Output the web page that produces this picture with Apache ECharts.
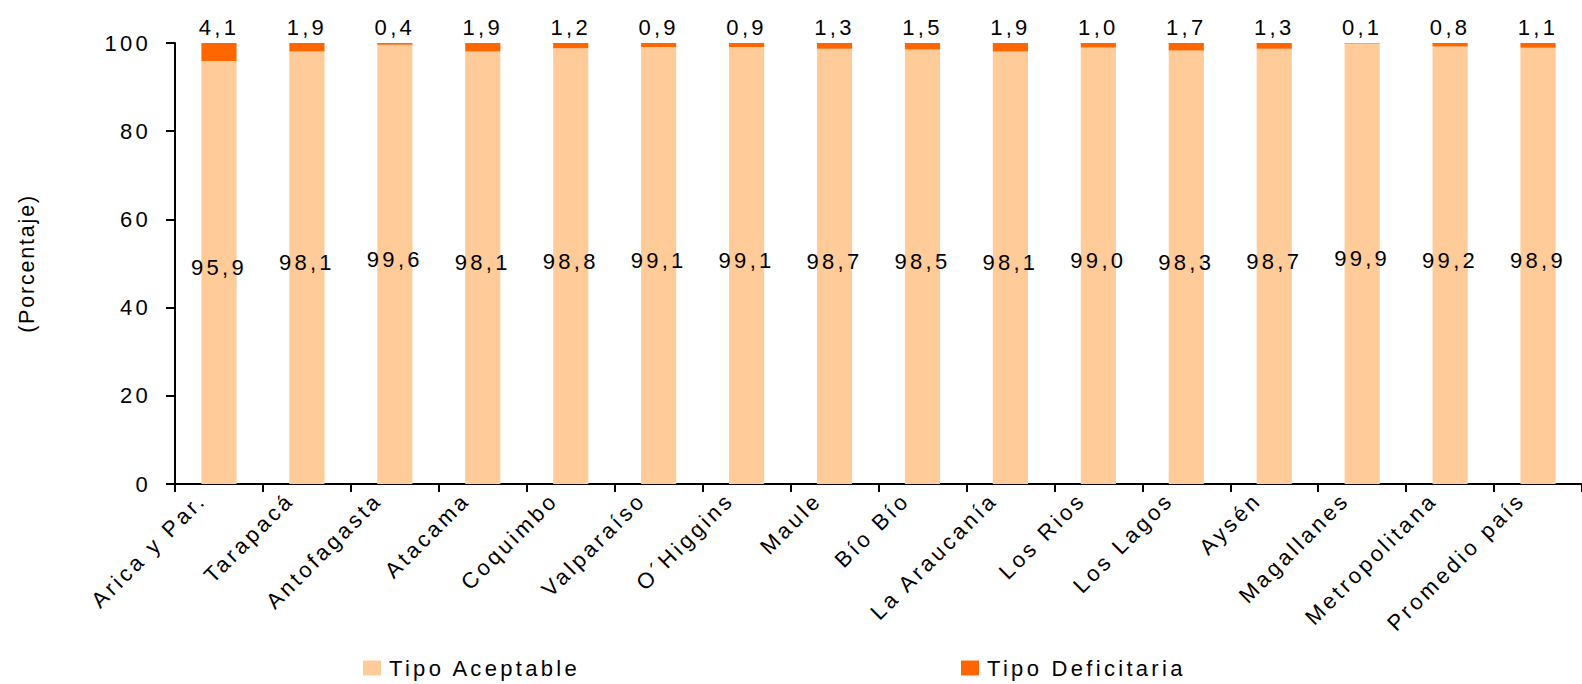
<!DOCTYPE html>
<html lang="es">
<head>
<meta charset="utf-8">
<title>Tipo de vivienda por región</title>
<script src="https://cdn.jsdelivr.net/npm/echarts@6/dist/echarts.min.js"></script>
<style>
  html, body { margin: 0; padding: 0; background: #ffffff; }
  #chart { width: 1582px; height: 684px; }
  /* widely tracked lettering used throughout the chart */
  #chart text { letter-spacing: 3.3px; }
  /* the vertical axis title is set a little tighter */
  #chart text[style*="21.5px"] { letter-spacing: 1.8px; }
</style>
</head>
<body>
<div id="chart"></div>
<script>
// Regions (plus the national average)
const regiones = [
  'Arica y Par.', 'Tarapacá', 'Antofagasta', 'Atacama', 'Coquimbo', 'Valparaíso',
  'O´Higgins', 'Maule', 'Bío Bío', 'La Araucanía', 'Los Rios', 'Los Lagos',
  'Aysén', 'Magallanes', 'Metropolitana', 'Promedio país'
];

// Share of dwellings of acceptable type (%)
const tipoAceptable = [95.9, 98.1, 99.6, 98.1, 98.8, 99.1, 99.1, 98.7, 98.5, 98.1, 99.0, 98.3, 98.7, 99.9, 99.2, 98.9];

// Share of dwellings of deficient type (%)
const tipoDeficitaria = [4.1, 1.9, 0.4, 1.9, 1.2, 0.9, 0.9, 1.3, 1.5, 1.9, 1.0, 1.7, 1.3, 0.1, 0.8, 1.1];

// Value axis ticks
const ejeY = { min: 0, max: 100, interval: 20 };

const FONT = "'Liberation Sans', Arial, Helvetica, sans-serif";
const fmt = v => v.toFixed(1).replace('.', ',');

const chart = echarts.init(document.getElementById('chart'), null, { renderer: 'svg' });

const legendText = { fontFamily: FONT, fontSize: 22, lineHeight: 22, color: '#000000', padding: [0, 0, 0, 3] };

chart.setOption({
  animation: false,
  backgroundColor: '#ffffff',
  textStyle: { fontFamily: FONT, color: '#000000' },
  grid: { left: 175, top: 43, right: -17, bottom: 200, containLabel: false },
  legend: [
    {
      data: ['Tipo Aceptable'],
      left: 363, top: 657,
      padding: 0,
      icon: 'rect', itemWidth: 18, itemHeight: 15,
      textStyle: legendText
    },
    {
      data: ['Tipo Deficitaria'],
      left: 961, top: 657,
      padding: 0,
      icon: 'rect', itemWidth: 18, itemHeight: 15,
      textStyle: legendText
    }
  ],
  xAxis: {
    type: 'category',
    data: regiones,
    axisLine: { lineStyle: { color: '#000000', width: 2 } },
    axisTick: { show: true, length: 8, lineStyle: { color: '#000000', width: 2 } },
    axisLabel: {
      interval: 0,
      rotate: 45,
      margin: 29,
      align: 'right',
      verticalAlign: 'bottom',
      lineHeight: 47,
      fontFamily: FONT,
      fontSize: 22,
      color: '#000000'
    },
    splitLine: { show: false }
  },
  yAxis: {
    type: 'value',
    min: ejeY.min,
    max: ejeY.max,
    interval: ejeY.interval,
    name: '(Porcentaje)',
    nameLocation: 'middle',
    nameRotate: 90,
    nameGap: 137,
    nameTextStyle: { fontFamily: FONT, fontSize: 21.5, color: '#000000' },
    axisLine: { show: true, lineStyle: { color: '#000000', width: 2 } },
    axisTick: { show: true, length: 9, lineStyle: { color: '#000000', width: 2 } },
    axisLabel: { margin: 24, fontFamily: FONT, fontSize: 22, color: '#000000' },
    splitLine: { show: false }
  },
  series: [
    {
      name: 'Tipo Aceptable',
      type: 'bar',
      stack: 'total',
      barWidth: '40%',
      data: tipoAceptable,
      itemStyle: { color: '#FFCC99' },
      label: {
        show: true,
        position: 'inside',
        offset: [0, -5],
        fontFamily: FONT,
        fontSize: 22,
        color: '#000000',
        formatter: p => fmt(p.value)
      }
    },
    {
      name: 'Tipo Deficitaria',
      type: 'bar',
      stack: 'total',
      barWidth: '40%',
      data: tipoDeficitaria,
      itemStyle: { color: '#FF6600' },
      label: {
        show: true,
        position: 'top',
        distance: 5,
        fontFamily: FONT,
        fontSize: 22,
        color: '#000000',
        formatter: p => fmt(p.value)
      }
    }
  ]
});
</script>
</body>
</html>
